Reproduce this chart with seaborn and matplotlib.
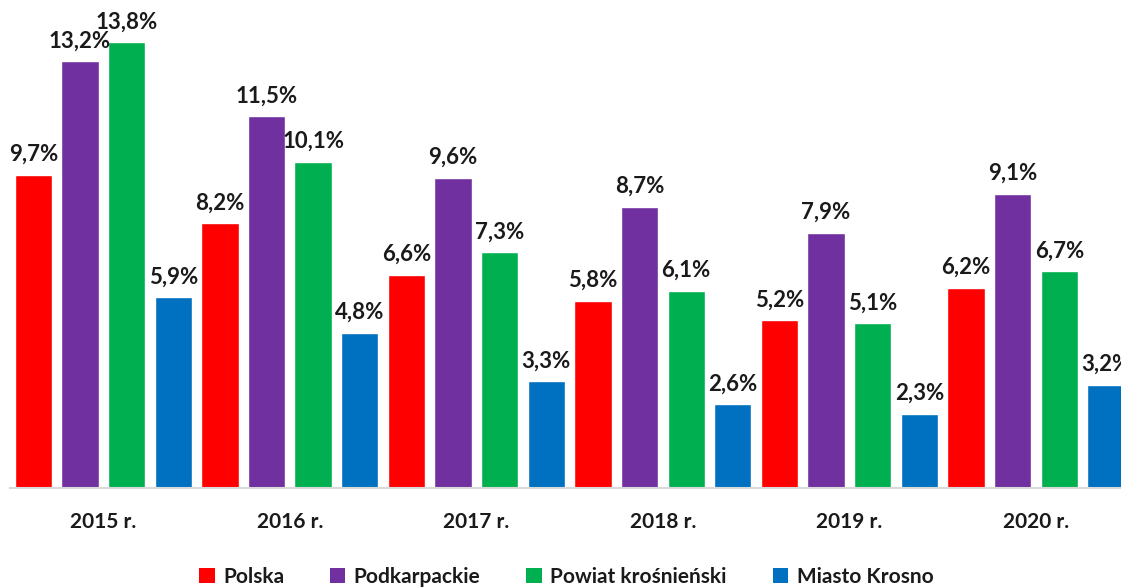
import matplotlib
matplotlib.use("Agg")
import matplotlib.pyplot as plt
import seaborn as sns
import pandas as pd
from matplotlib.patches import Patch

years = ["2015 r.", "2016 r.", "2017 r.", "2018 r.", "2019 r.", "2020 r."]
series = ["Polska", "Podkarpackie", "Powiat krośnieński", "Miasto Krosno"]
polska = [9.7, 8.2, 6.6, 5.8, 5.2, 6.2]
podkarpackie = [13.2, 11.5, 9.6, 8.7, 7.9, 9.1]
powiat = [13.8, 10.1, 7.3, 6.1, 5.1, 6.7]
krosno = [5.9, 4.8, 3.3, 2.6, 2.3, 3.2]
colors = ["#FF0000", "#7030A0", "#00B050", "#0070C0"]

values = [polska, podkarpackie, powiat, krosno]
rows = []
for s, vals in zip(series, values):
    for y, v in zip(years, vals):
        rows.append({"year": y, "series": s, "value": v})
df = pd.DataFrame(rows)

sns.set_theme(style="white")
plt.rcParams["font.family"] = ["Lato", "DejaVu Sans"]

fig = plt.figure(figsize=(11.21, 5.88), dpi=100)
ax = fig.add_axes([10 / 1121, 100 / 588, 1111 / 1121, 488 / 588])
sns.barplot(data=df, x="year", y="value", hue="series", order=years,
            hue_order=series, palette=colors, width=1.0, gap=0.2,
            saturation=1, legend=False, ax=ax)

for cont, vals in zip(ax.containers, values):
    labels = [f"{v:.1f}%".replace(".", ",") for v in vals]
    texts = ax.bar_label(cont, labels=labels, padding=7, fontsize=16,
                         fontweight="bold", color="#1a1a1a")
    for t in texts:
        t.set_clip_on(False)

ax.set_xlim(-0.5, 5.456)
ax.set_ylim(0, 15.1)
ax.set_xlabel("")
ax.set_ylabel("")
ax.set_yticks([])
for s in ["left", "right", "top"]:
    ax.spines[s].set_visible(False)
ax.spines["bottom"].set_color("#D9D9D9")
ax.spines["bottom"].set_linewidth(1.5)
ax.tick_params(axis="x", length=0, pad=17)
for lab in ax.get_xticklabels():
    lab.set_fontsize(15)
    lab.set_fontweight("bold")
    lab.set_color("#1a1a1a")

handles = [Patch(facecolor=c, edgecolor="none", label=s) for s, c in zip(series, colors)]
leg = fig.legend(handles=handles, loc="center", bbox_to_anchor=(0.505, 11 / 588),
                 ncol=4, frameon=False, prop={"size": 15, "weight": "bold"},
                 handlelength=0.75, handleheight=0.75, handletextpad=0.4,
                 columnspacing=2.2)
for t in leg.get_texts():
    t.set_color("#1a1a1a")

fig.savefig("out.png", dpi=100)
